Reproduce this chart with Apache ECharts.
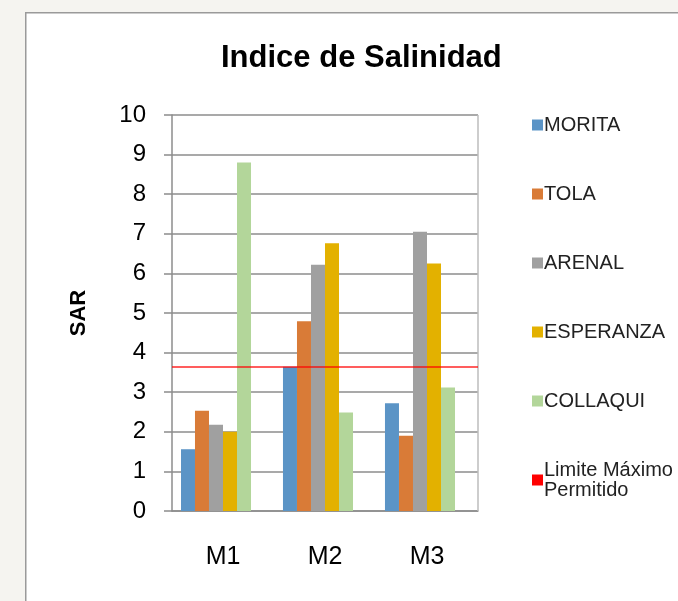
<!DOCTYPE html>
<html>
<head>
<meta charset="utf-8">
<script src="https://cdn.jsdelivr.net/npm/echarts@6/dist/echarts.min.js"></script>
<style>
html,body{margin:0;padding:0;background:#f5f4f0;}
#c{width:678px;height:601px;}
</style>
</head>
<body>
<div id="c"></div>
<script>
const categories = ['M1', 'M2', 'M3'];
const seriesNames = ['MORITA', 'TOLA', 'ARENAL', 'ESPERANZA', 'COLLAQUI'];
const morita = [1.56, 3.64, 2.72];
const tola = [2.53, 4.79, 1.90];
const arenal = [2.18, 6.22, 7.05];
const esperanza = [2.00, 6.76, 6.25];
const collaqui = [8.80, 2.49, 3.12];
const limitName = 'Limite Máximo\nPermitido';
const limitValue = 3.64;
const yTicks = [0, 1, 2, 3, 4, 5, 6, 7, 8, 9, 10];

const values = [morita, tola, arenal, esperanza, collaqui];
const colors = ['#5b94c6', '#d97b37', '#a0a0a0', '#e3b100', '#b3d69a'];
const font = 'Liberation Sans, Arial, sans-serif';

const chart = echarts.init(document.getElementById('c'));
const series = seriesNames.map((n, i) => ({
  name: n, type: 'bar', data: values[i],
  itemStyle: {color: colors[i]},
  barGap: '0%', barCategoryGap: '17.6%'
}));
// limit series: occupies the (empty) sixth slot of each group and draws the horizontal limit line
series.push({
  name: limitName, type: 'bar', data: [],
  barGap: '0%', barCategoryGap: '17.6%',
  itemStyle: {color: '#ff0000'},
  markLine: {
    silent: true, symbol: 'none',
    label: {show: false},
    lineStyle: {color: 'rgba(255,0,0,0.85)', width: 1.5, type: 'solid'},
    data: [{yAxis: limitValue}]
  }
});

chart.setOption({
  backgroundColor: '#f5f4f0',
  animation: false,
  graphic: [{
    type: 'rect', left: 25, top: 12, z: -10,
    shape: {width: 700, height: 620},
    style: {fill: '#ffffff', stroke: '#9a9a9a', lineWidth: 1.5}
  }, {
    type: 'line', z: 5,
    shape: {x1: 478, y1: 115, x2: 478, y2: 511},
    style: {stroke: '#bdbdbd', lineWidth: 1.5}
  }],
  title: {
    text: 'Indice de Salinidad',
    left: 216, top: 38,
    textStyle: {fontFamily: font, fontSize: 31, fontWeight: 'bold', color: '#000'}
  },
  legend: {
    orient: 'vertical', left: 527, top: 110,
    icon: 'rect', itemWidth: 11, itemHeight: 11, itemGap: 49,
    data: seriesNames.concat([limitName]),
    textStyle: {fontFamily: font, fontSize: 20, lineHeight: 20, color: '#222', padding: [0, 0, 0, -4]}
  },
  grid: {left: 172, right: 200, top: 115, bottom: 90},
  xAxis: {
    type: 'category', data: categories,
    axisLine: {lineStyle: {color: '#8c8c8c', width: 1.5}},
    axisTick: {show: false},
    axisLabel: {fontFamily: font, fontSize: 25, color: '#000', margin: 34}
  },
  yAxis: {
    type: 'value', min: yTicks[0], max: yTicks[yTicks.length - 1], interval: 1,
    name: 'SAR', nameLocation: 'middle', nameRotate: 90, nameGap: 82,
    nameTextStyle: {fontFamily: font, fontSize: 22, fontWeight: 'bold', color: '#000'},
    axisLine: {show: true, lineStyle: {color: '#8c8c8c', width: 1.5}},
    axisTick: {show: true, length: 8, lineStyle: {color: '#8c8c8c', width: 1.5}},
    axisLabel: {fontFamily: font, fontSize: 24, color: '#000', margin: 26},
    splitLine: {lineStyle: {color: '#8c8c8c', width: 1.5}}
  },
  series: series
});
</script>
</body>
</html>
